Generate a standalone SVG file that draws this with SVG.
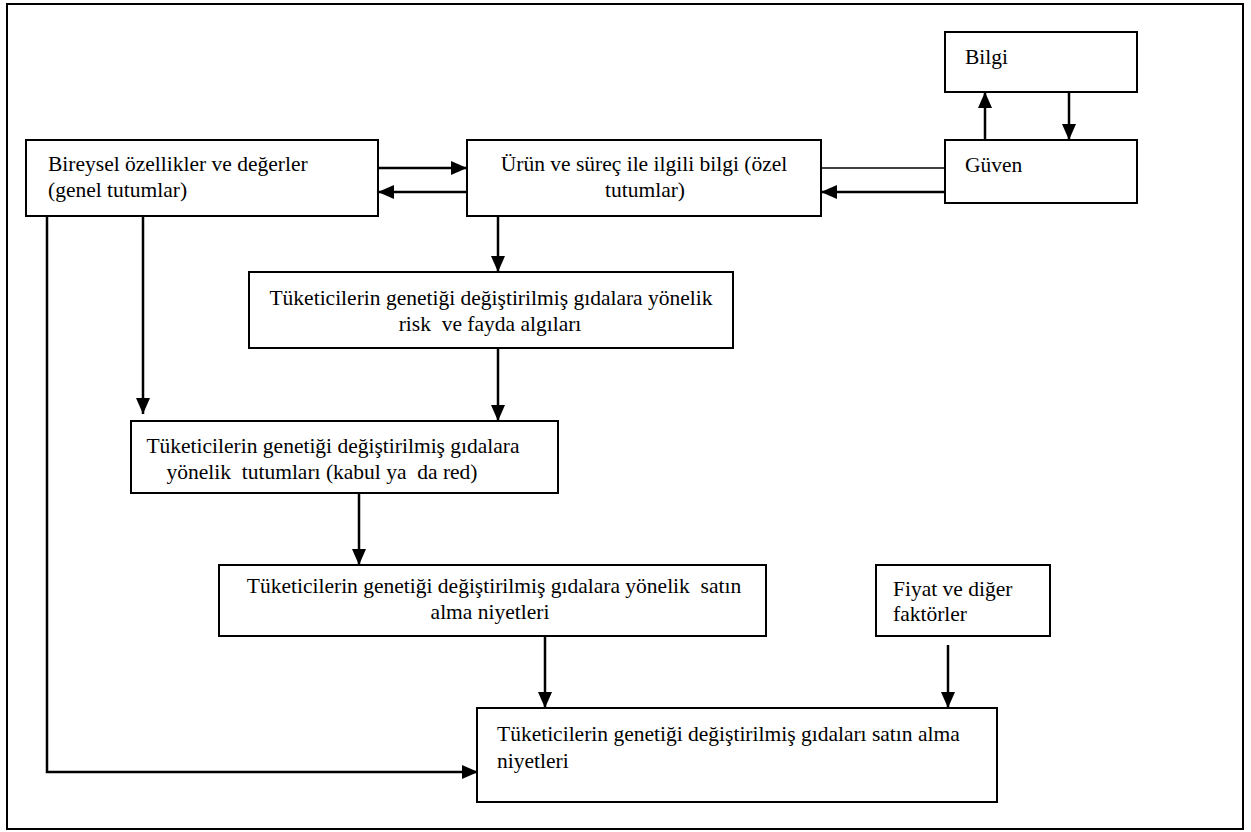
<svg xmlns="http://www.w3.org/2000/svg" width="1251" height="832" viewBox="0 0 1251 832">
<style>
.box{fill:#fff;stroke:#000;stroke-width:2}
.t{font-family:"Liberation Serif","Times New Roman",serif;font-size:21.5px;fill:#000}
.c{text-anchor:middle}
.ln{stroke:#000;stroke-width:2.5;fill:none}
.thin{stroke:#000;stroke-width:1.5;fill:none}
</style>
<defs>
<marker id="ah" markerUnits="userSpaceOnUse" markerWidth="18" markerHeight="16" refX="16" refY="7" orient="auto">
<path d="M0,0 L16,7 L0,14 Z" fill="#000"/>
</marker>
</defs>
<rect x="0" y="0" width="1251" height="832" fill="#fff"/>
<rect x="7" y="4" width="1236" height="825" fill="none" stroke="#000" stroke-width="2"/>

<g id="connectors">
<line class="ln" x1="378" y1="168" x2="467" y2="168" marker-end="url(#ah)"/>
<line class="ln" x1="467" y1="192" x2="378" y2="192" marker-end="url(#ah)"/>
<line class="thin" x1="821" y1="168" x2="945" y2="168"/>
<line class="ln" x1="945" y1="192" x2="821" y2="192" marker-end="url(#ah)"/>
<line class="ln" x1="985" y1="140" x2="985" y2="92" marker-end="url(#ah)"/>
<line class="ln" x1="1069" y1="92" x2="1069" y2="140" marker-end="url(#ah)"/>
<line class="ln" x1="498" y1="216" x2="498" y2="272" marker-end="url(#ah)"/>
<line class="ln" x1="498" y1="348" x2="498" y2="421" marker-end="url(#ah)"/>
<line class="ln" x1="143" y1="216" x2="143" y2="414" marker-end="url(#ah)"/>
<line class="ln" x1="359" y1="493" x2="359" y2="565" marker-end="url(#ah)"/>
<line class="ln" x1="545" y1="636" x2="545" y2="708" marker-end="url(#ah)"/>
<line class="ln" x1="948" y1="645" x2="948" y2="708" marker-end="url(#ah)"/>
<polyline class="ln" points="47,216 47,772 478,772" marker-end="url(#ah)"/>
</g>

<g id="bilgi">
<rect class="box" x="945" y="32" width="192" height="60"/>
<text class="t" x="965" y="64">Bilgi</text>
</g>
<g id="guven">
<rect class="box" x="945" y="140" width="192" height="63"/>
<text class="t" x="965" y="172">Güven</text>
</g>
<g id="bireysel">
<rect class="box" x="26" y="140" width="352" height="76"/>
<text class="t" x="48" y="171">Bireysel özellikler ve değerler</text>
<text class="t" x="48" y="197">(genel tutumlar)</text>
</g>
<g id="urun">
<rect class="box" x="467" y="140" width="354" height="76"/>
<text class="t c" x="644" y="171">Ürün ve süreç ile ilgili bilgi (özel</text>
<text class="t c" x="645" y="197">tutumlar)</text>
</g>
<g id="risk">
<rect class="box" x="249" y="272" width="484" height="76"/>
<text class="t c" x="491" y="305">Tüketicilerin genetiği değiştirilmiş gıdalara yönelik</text>
<text class="t c" x="490" y="331" xml:space="preserve">risk  ve fayda algıları</text>
</g>
<g id="tutum">
<rect class="box" x="131" y="421" width="427" height="72"/>
<text class="t c" x="333" y="453">Tüketicilerin genetiği değiştirilmiş gıdalara</text>
<text class="t c" x="322" y="479" xml:space="preserve">yönelik  tutumları (kabul ya  da red)</text>
</g>
<g id="niyet">
<rect class="box" x="219" y="565" width="547" height="71"/>
<text class="t c" x="494" y="593" xml:space="preserve">Tüketicilerin genetiği değiştirilmiş gıdalara yönelik  satın</text>
<text class="t c" x="490" y="619">alma niyetleri</text>
</g>
<g id="fiyat">
<rect class="box" x="876" y="565" width="174" height="71"/>
<text class="t" x="893" y="596">Fiyat ve diğer</text>
<text class="t" x="893" y="621">faktörler</text>
</g>
<g id="final">
<rect class="box" x="477" y="708" width="520" height="94"/>
<text class="t" x="497" y="741">Tüketicilerin genetiği değiştirilmiş gıdaları satın alma</text>
<text class="t" x="497" y="768">niyetleri</text>
</g>
</svg>
